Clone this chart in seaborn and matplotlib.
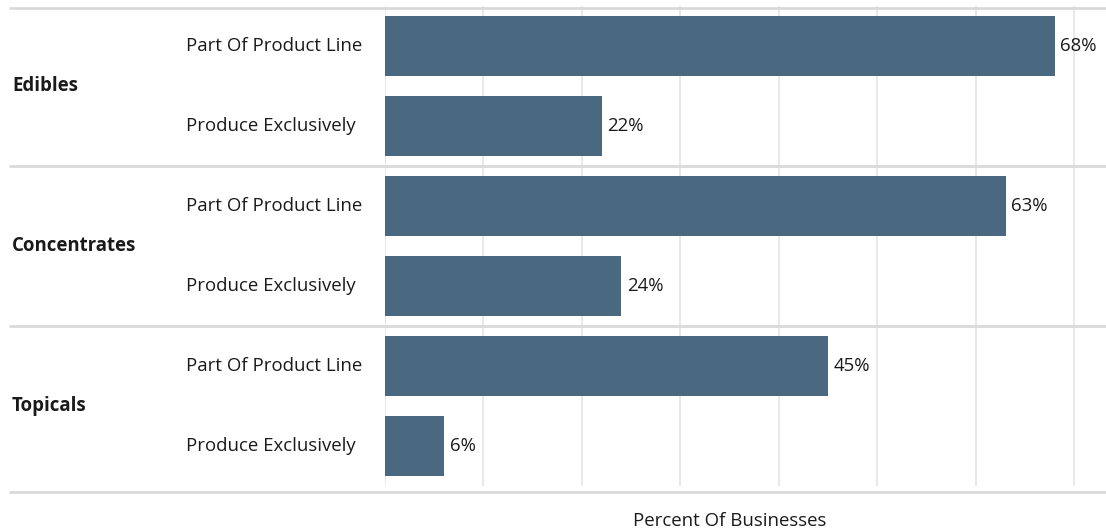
import pandas as pd
import seaborn as sns
import matplotlib.pyplot as plt
import matplotlib.transforms as mtransforms

groups = ["Edibles", "Concentrates", "Topicals"]
sub_labels = ["Part Of Product Line", "Produce Exclusively"]
values = [68, 22, 63, 24, 45, 6]
x_ticks = [0, 10, 20, 30, 40, 50, 60, 70]

rows = []
i = 0
for g in groups:
    for s in sub_labels:
        rows.append({"row": f"{g} | {s}", "group": g, "sub": s, "pct": values[i]})
        i += 1
df = pd.DataFrame(rows)

sns.set_theme(style="white")
plt.rcParams["font.family"] = ["Open Sans", "DejaVu Sans"]
FS = 13.4
TXT = "#1a1a1a"

fig = plt.figure(figsize=(11.06, 5.31), dpi=100)
ax = fig.add_axes([385 / 1106, 45 / 531, 721 / 1106, 480 / 531])

sns.barplot(data=df, x="pct", y="row", orient="h", color="#4a6880",
            width=0.75, saturation=1, linewidth=0, ax=ax)

ax.set_xlim(0, 73.2)
ax.set_ylim(len(df) - 0.5, -0.5)
ax.set_xticks(x_ticks)
ax.set_xticklabels([])
ax.tick_params(axis="both", length=0)
ax.grid(axis="x", color="#e6e6e6", linewidth=1.3)
ax.set_axisbelow(True)
for sp in ax.spines.values():
    sp.set_visible(False)

# value labels
for c in ax.containers:
    ax.bar_label(c, labels=[f"{v}%" for v in values], padding=4, fontsize=FS, color=TXT)

# y labels
ax.set_yticklabels([])
ax.set_ylabel("")
trans = mtransforms.blended_transform_factory(ax.transAxes, ax.transData)
for k, r in df.iterrows():
    ax.text(-199 / 721, k, r["sub"], transform=trans, ha="left", va="center",
            fontsize=FS, color=TXT)
for j, g in enumerate(groups):
    ax.text(-373 / 721, 2 * j + 0.5, g, transform=trans, ha="left", va="center",
            fontsize=FS, fontweight="bold", color=TXT)

# group separators
for yb in [-0.48, 1.5, 3.5, 5.58]:
    ax.axhline(yb, xmin=-375 / 721, xmax=1, color="#d9d9d9", linewidth=2, clip_on=False)

ax.set_xlabel("Percent Of Businesses", fontsize=FS, color=TXT)
ax.xaxis.set_label_coords(35 / 73.2, -0.055)

fig.savefig("out.png", dpi=100)
